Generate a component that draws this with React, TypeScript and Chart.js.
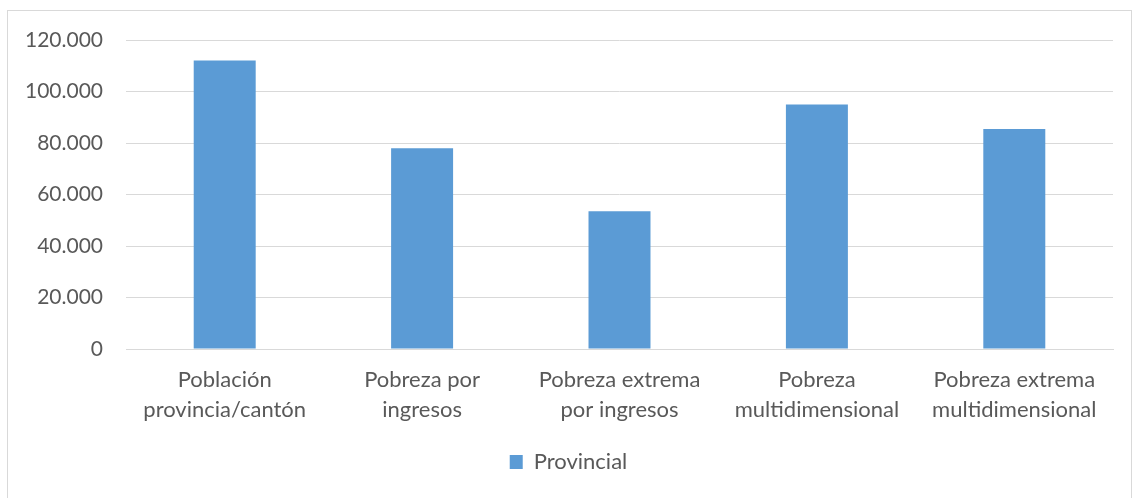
import React, { useEffect, useRef } from "react";
import { Chart, registerables } from "chart.js";

Chart.register(...registerables);

const categories: string[][] = [
  ["Población", "provincia/cantón"],
  ["Pobreza por", "ingresos"],
  ["Pobreza extrema", "por ingresos"],
  ["Pobreza", "multidimensional"],
  ["Pobreza extrema", "multidimensional"],
];
const seriesName = "Provincial";
const provincialValues = [112000, 78000, 53500, 95000, 85400];
const yMax = 120000;
const yStep = 20000;

const fmt = (v: number) => String(Math.round(v)).replace(/\B(?=(\d{3})+(?!\d))/g, ".");

const legendShift = {
  id: "legendShift",
  afterLayout(chart: any) {
    if (chart.legend) {
      chart.legend.left += 12;
      chart.legend.right += 12;
    }
  },
};

export default function App() {
  const ref = useRef<HTMLCanvasElement | null>(null);
  useEffect(() => {
    if (!ref.current) return;
    const font = "Lato, 'Open Sans', sans-serif";
    const chart = new Chart(ref.current, {
      type: "bar",
      data: {
        labels: categories,
        datasets: [
          {
            label: seriesName,
            data: provincialValues,
            backgroundColor: "#5B9BD5",
            borderWidth: 0,
            categoryPercentage: 1,
            barPercentage: 0.314,
          },
        ],
      },
      plugins: [legendShift],
      options: {
        animation: false,
        responsive: false,
        maintainAspectRatio: false,
        layout: { padding: { top: 40, right: 21, bottom: 15, left: 0 } },
        plugins: {
          tooltip: { enabled: false },
          legend: {
            position: "bottom",
            labels: {
              color: "#595959",
              font: { family: font, size: 22 },
              boxWidth: 13,
              boxHeight: 14,
              padding: 10,
            },
          },
        },
        scales: {
          x: {
            grid: { display: false, drawTicks: false },
            border: { color: "#d9d9d9", width: 1 },
            ticks: {
              color: "#595959",
              font: { family: font, size: 22, lineHeight: 1.36 },
              padding: 16,
              maxRotation: 0,
              autoSkip: false,
            },
            afterFit: (s: any) => {
              s.height = 92;
            },
          },
          y: {
            min: 0,
            max: yMax,
            grid: { color: "#d9d9d9", lineWidth: 1, drawTicks: false },
            border: { display: false },
            ticks: {
              stepSize: yStep,
              color: "#595959",
              font: { family: font, size: 21 },
              padding: 23,
              callback: (v: any) => fmt(Number(v)),
            },
            afterFit: (s: any) => {
              s.width = 126;
            },
          },
        },
      },
    });
    return () => chart.destroy();
  }, []);
  return (
    <div style={{ position: "fixed", left: 0, top: 0, width: 1134, height: 498, background: "#fff" }}>
      <div
        style={{
          position: "absolute",
          left: 7,
          top: 10,
          width: 1125,
          height: 500,
          border: "1px solid #d9d9d9",
          boxSizing: "border-box",
        }}
      />
      <canvas ref={ref} width={1134} height={498} style={{ position: "absolute", left: 0, top: 0 }} />
    </div>
  );
}
